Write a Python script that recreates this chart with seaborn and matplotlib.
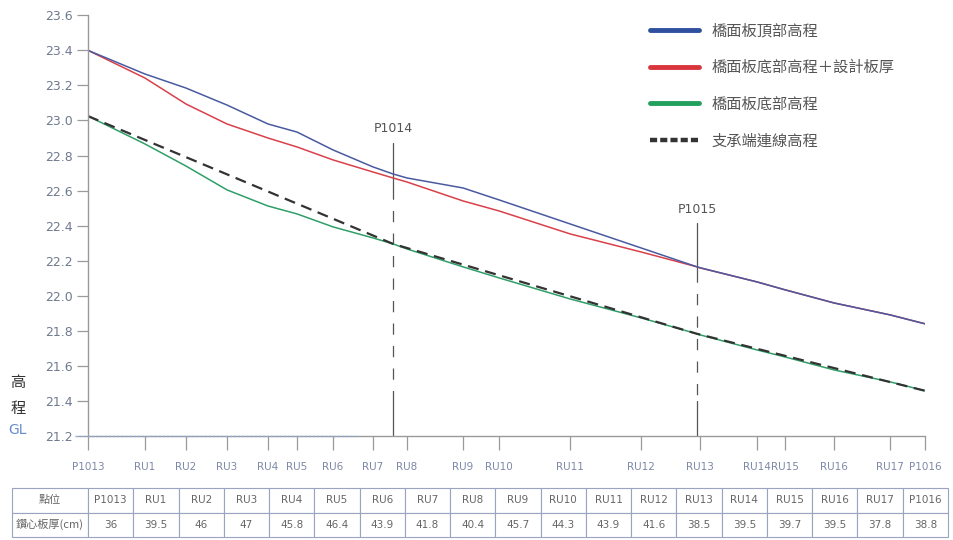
import matplotlib
matplotlib.use("Agg")
import matplotlib.pyplot as plt
import seaborn as sns
import pandas as pd
from matplotlib.lines import Line2D

# ---------------- data ----------------
# positions along the deck (arbitrary distance units) of each measuring point
station_labels = ["P1013", "RU1", "RU2", "RU3", "RU4", "RU5", "RU6", "RU7", "RU8", "RU9",
                  "RU10", "RU11", "RU12", "RU13", "RU14", "RU15", "RU16", "RU17", "P1016"]
station_pos = [0, 57, 98, 139, 180, 209, 245, 285, 319, 375,
               411, 482, 553, 612, 669, 697, 746, 802, 837]

pier_labels = ["P1014", "P1015"]
pier_pos = [305, 609]

# points on which the profiles were sampled (stations + intermediate piers)
profile_pos = [0, 57, 98, 139, 180, 209, 245, 285, 305, 319, 375,
               411, 482, 553, 609, 612, 669, 697, 746, 802, 837]
top_elev = [23.40, 23.265, 23.185, 23.088, 22.98, 22.934, 22.832, 22.735, 22.695, 22.672, 22.615,
            22.547, 22.41, 22.273, 22.165, 22.16, 22.079, 22.034, 21.959, 21.891, 21.84]
bottom_plus_design = [23.40, 23.242, 23.094, 22.98, 22.90, 22.849, 22.775, 22.706, 22.672, 22.649, 22.541,
                      22.484, 22.353, 22.25, 22.165, 22.159, 22.079, 22.034, 21.959, 21.891, 21.84]
bottom_elev = [23.025, 22.866, 22.74, 22.604, 22.512, 22.467, 22.393, 22.33, 22.296, 22.267, 22.165,
               22.102, 21.982, 21.874, 21.783, 21.777, 21.691, 21.651, 21.577, 21.509, 21.458]

support_pos = [0, 305, 609, 837]
support_elev = [23.025, 22.296, 21.783, 21.458]

series_names = ["橋面板頂部高程", "橋面板底部高程＋設計板厚", "橋面板底部高程", "支承端連線高程"]

yticks = [21.2, 21.4, 21.6, 21.8, 22.0, 22.2, 22.4, 22.6, 22.8, 23.0, 23.2, 23.4, 23.6]

table_row_labels = ["點位", "鑽心板厚(cm)"]
table_thickness = ["36", "39.5", "46", "47", "45.8", "46.4", "43.9", "41.8", "40.4", "45.7",
                   "44.3", "43.9", "41.6", "38.5", "39.5", "39.7", "39.5", "37.8", "38.8"]

# ---------------- figure ----------------
sns.set_theme(style="white")
plt.rcParams["font.family"] = ["Noto Sans CJK TC", "DejaVu Sans"]

W, H = 954, 540
fig = plt.figure(figsize=(W / 100, H / 100), dpi=100)
fig.patch.set_facecolor("white")

def fx(px):
    return px / W

def fy(py):
    return 1 - py / H

ax = fig.add_axes([fx(88), fy(436), fx(925) - fx(88), fy(15.3) - fy(436)])
ax.set_facecolor("white")

c_blue = "#4a5aa0"
c_red = "#d9404a"
c_green = "#2f9f68"
c_dash = "#333333"

df = pd.DataFrame({"pos": profile_pos, "top": top_elev,
                   "red": bottom_plus_design, "bottom": bottom_elev})
dsup = pd.DataFrame({"pos": support_pos, "elev": support_elev})

sns.lineplot(data=df, x="pos", y="bottom", ax=ax, color=c_green, lw=1.1, sort=False)
sns.lineplot(data=dsup, x="pos", y="elev", ax=ax, color=c_dash, lw=1.6,
             linestyle=(0, (5, 3)), sort=False)
sns.lineplot(data=df, x="pos", y="red", ax=ax, color=c_red, lw=1.1, sort=False)
sns.lineplot(data=df, x="pos", y="top", ax=ax, color=c_blue, lw=1.1, sort=False)

ax.set_xlim(0, 837)
ax.set_ylim(21.2, 23.6)
ax.set_xlabel("")
ax.set_ylabel("")

# axes styling
for s in ["top", "right"]:
    ax.spines[s].set_visible(False)
ax.spines["left"].set_color("#9a9a9a")
ax.spines["bottom"].set_color("#9a9a9a")
ax.spines["left"].set_linewidth(1.0)
ax.spines["bottom"].set_linewidth(1.0)

ax.set_yticks(yticks)
ax.set_yticklabels([f"{v:.1f}" for v in yticks])
ax.tick_params(axis="y", direction="out", length=8, width=0.9, color="#9a9a9a",
               labelsize=9, labelcolor="#6f7a90", pad=3, left=True)
ax.set_xticks(station_pos)
ax.set_xticklabels(station_labels)
ax.tick_params(axis="x", direction="out", length=10, width=0.9, color="#9a9a9a",
               labelsize=7.5, labelcolor="#7d88a8", pad=9, bottom=True)
for lab in ax.get_yticklabels() + ax.get_xticklabels():
    lab.set_family(["DejaVu Sans"])

# GL reference dotted line
ax.axhline(21.2, xmin=-0.016, xmax=0.32, color="#8fa8d8", lw=1.0,
           linestyle=(0, (1.5, 1.5)), clip_on=False, zorder=5)

# pier vertical lines with labels
pier_line_top = [22.87, 22.415]
pier_solid_end = [22.615, 22.14]
pier_label_y = [22.915, 22.455]
for p, lab, lt, se, ly in zip(pier_pos, pier_labels, pier_line_top, pier_solid_end, pier_label_y):
    ax.plot([p, p], [lt, se], color="#555555", lw=0.9, zorder=1)
    ax.plot([p, p], [se, 21.40], color="#555555", lw=0.9, zorder=1,
            linestyle=(0, (9, 9)))
    ax.plot([p, p], [21.40, 21.2], color="#555555", lw=0.9, zorder=1)
    ax.text(p, ly, lab, ha="center", va="bottom", fontsize=9, color="#555555",
            family=["DejaVu Sans"])

# legend
handles = [
    Line2D([], [], color="#2f4f9f", lw=3.5),
    Line2D([], [], color="#d8353d", lw=3.5),
    Line2D([], [], color="#23a05e", lw=3.5),
    Line2D([], [], color="#333333", lw=3.2, linestyle=(0, (1.6, 0.7))),
]
leg = fig.legend(handles, series_names, loc="upper left",
                 bbox_to_anchor=(fx(650), fy(22)), frameon=False, fontsize=11,
                 handlelength=3.2, handletextpad=0.8, labelspacing=1.3,
                 borderpad=0, borderaxespad=0)
for t in leg.get_texts():
    t.set_color("#555555")

# y axis label
fig.text(fx(18), fy(383), "高", ha="center", va="center", fontsize=11, color="#333333")
fig.text(fx(18), fy(408), "程", ha="center", va="center", fontsize=11, color="#333333")
fig.text(fx(18), fy(430), "GL", ha="center", va="center", fontsize=10, color="#6a8ccc",
         family=["DejaVu Sans"])

# table at the bottom
tax = fig.add_axes([fx(12), fy(537), fx(948) - fx(12), fy(488) - fy(537)])
tax.axis("off")
cells = [[table_row_labels[0]] + station_labels,
         [table_row_labels[1]] + table_thickness]
first_w = 76 / 936
other_w = (1 - first_w) / len(station_labels)
tbl = tax.table(cellText=cells, colWidths=[first_w] + [other_w] * len(station_labels),
                bbox=[0, 0, 1, 1], cellLoc="center")
tbl.auto_set_font_size(False)
for (r, c), cell in tbl.get_celld().items():
    cell.set_edgecolor("#9aa3c0")
    cell.set_linewidth(0.8)
    cell.set_facecolor("white")
    txt = cell.get_text()
    txt.set_fontsize(7.5)
    txt.set_color("#666666")
    if c == 0:
        txt.set_fontsize(8)
    else:
        txt.set_family(["DejaVu Sans"])

fig.savefig("out.png", dpi=100, facecolor="white")
